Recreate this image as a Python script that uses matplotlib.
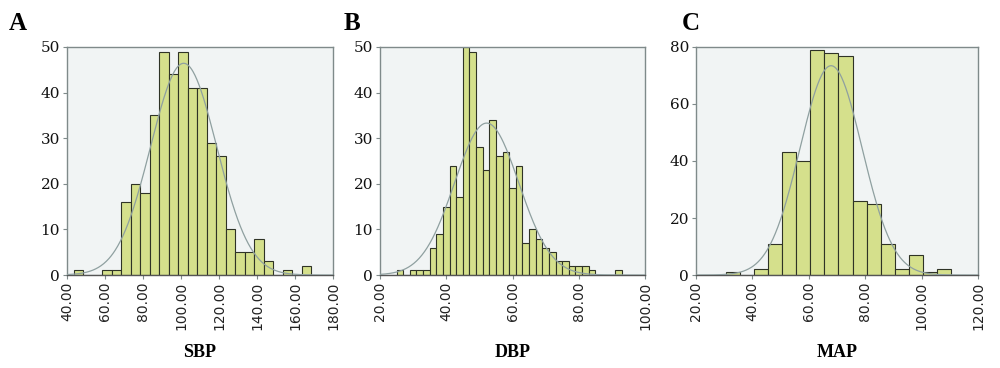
import numpy as np
import matplotlib

matplotlib.use("Agg")
import matplotlib.pyplot as plt

# SBP histogram: bins of width 5 starting at 43.5
sbp_edges_start = 43.5
sbp_bin_width = 5.0
sbp_counts = [1, 0, 0, 1, 1, 16, 20, 18, 35, 49, 44, 49, 41, 41, 29, 26,
              10, 5, 5, 8, 3, 0, 1, 0, 2]
sbp_mean, sbp_sd = 101.4, 17.4

# DBP histogram: bins of width 2 starting at 25
dbp_edges_start = 25.0
dbp_bin_width = 2.0
dbp_counts = [1, 0, 1, 1, 1, 6, 9, 15, 24, 17, 50, 49, 28, 23, 34, 26, 27,
              19, 24, 7, 10, 8, 6, 5, 3, 3, 2, 2, 2, 1, 0, 0, 0, 1]
dbp_mean, dbp_sd = 52.2, 9.7

# MAP histogram: bins of width 5 starting at 30.5
map_edges_start = 30.5
map_bin_width = 5.0
map_counts = [1, 0, 2, 11, 43, 40, 79, 78, 77, 26, 25, 11, 2, 7, 1, 2]
map_mean, map_sd = 67.9, 11.0

panels = [
    ("A", "SBP", sbp_edges_start, sbp_bin_width, sbp_counts, sbp_mean, sbp_sd,
     (40, 180), np.arange(40, 181, 20), (0, 50), np.arange(0, 51, 10)),
    ("B", "DBP", dbp_edges_start, dbp_bin_width, dbp_counts, dbp_mean, dbp_sd,
     (20, 100), np.arange(20, 101, 20), (0, 50), np.arange(0, 51, 10)),
    ("C", "MAP", map_edges_start, map_bin_width, map_counts, map_mean, map_sd,
     (20, 120), np.arange(20, 121, 20), (0, 80), np.arange(0, 81, 20)),
]

axes_boxes = [
    (0.067, 0.2527, 0.266, 0.6196),
    (0.380, 0.2527, 0.265, 0.6196),
    (0.696, 0.2527, 0.282, 0.6196),
]
letter_x = [0.009, 0.344, 0.682]

BAR_FILL = "#d5e08c"
BAR_EDGE = "#2f3326"
AX_BG = "#f1f4f4"
SPINE = "#7f8a8a"
CURVE = "#8fa0a0"

fig = plt.figure(figsize=(10, 3.68), dpi=100)

for (letter, label, start, width, counts, mu, sd, xlim, xticks, ylim, yticks), box, lx in zip(
        panels, axes_boxes, letter_x):
    ax = fig.add_axes(box)
    ax.set_facecolor(AX_BG)
    counts = np.asarray(counts, dtype=float)
    lefts = start + width * np.arange(len(counts))
    ax.bar(lefts, counts, width=width, align="edge", color=BAR_FILL,
           edgecolor=BAR_EDGE, linewidth=0.8, zorder=2)

    # fitted normal curve scaled to the histogram counts
    xs = np.linspace(xlim[0], xlim[1], 400)
    n = counts.sum()
    ys = n * width / (sd * np.sqrt(2 * np.pi)) * np.exp(-0.5 * ((xs - mu) / sd) ** 2)
    ax.plot(xs, ys, color=CURVE, linewidth=0.9, zorder=3)

    ax.set_xlim(*xlim)
    ax.set_ylim(*ylim)
    ax.set_xticks(xticks)
    ax.set_xticklabels([f"{v:.2f}" for v in xticks], rotation=90,
                       fontsize=10, family="DejaVu Sans", color="#222222")
    ax.set_yticks(yticks)
    ax.set_yticklabels([str(v) for v in yticks], fontsize=11,
                       family="DejaVu Serif", color="#111111")
    ax.tick_params(axis="both", length=3, width=0.8, color=SPINE, pad=2)
    for side in ["left", "right", "top", "bottom"]:
        ax.spines[side].set_color(SPINE)
        ax.spines[side].set_linewidth(1.0)
    ax.spines["bottom"].set_color("#555555")

    ax.set_xlabel(label, fontsize=13, fontweight="bold",
                  family="Liberation Serif", labelpad=10)
    fig.text(lx, 0.935, letter, fontsize=18, fontweight="bold",
             family="Liberation Serif", va="center", ha="left")

fig.savefig("out.png", dpi=100)
